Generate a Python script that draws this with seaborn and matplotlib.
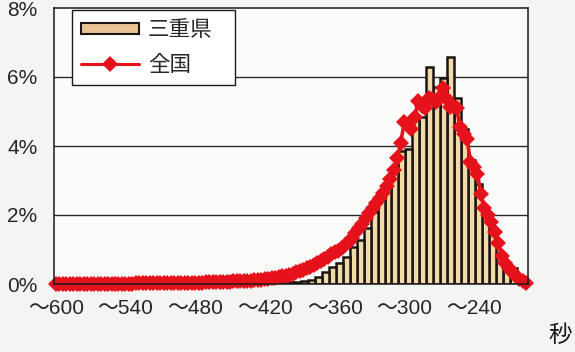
import numpy as np
import pandas as pd
import matplotlib
matplotlib.use("Agg")
import matplotlib.pyplot as plt
from matplotlib.patches import Patch
from matplotlib.lines import Line2D
import seaborn as sns

# 三重県: share of pupils in each 6-second bin (bin centre, seconds)
mie_sec = list(range(206, 447, 6))
mie_pct = [0.46, 0.55, 0.85, 1.65, 2.10, 2.90, 3.60, 4.49, 5.39, 6.58,
           5.97, 5.70, 6.29, 4.85, 4.75, 3.90, 3.85, 3.40, 2.90, 2.43,
           2.09, 1.62, 1.28, 1.07, 0.78, 0.60, 0.50, 0.35, 0.20, 0.13,
           0.10, 0.07, 0.05, 0.04, 0.03, 0.02, 0.02, 0.01, 0.01, 0.01,
           0.01]

# 全国: share of pupils at each 3-second step, from 600 s down to 195 s
nat_sec = list(range(600, 194, -3))
nat_pct = [0.00, 0.00, 0.00, 0.00, 0.00, 0.01, 0.01, 0.01, 0.01, 0.01,
           0.01, 0.01, 0.01, 0.01, 0.01, 0.01, 0.01, 0.01, 0.01, 0.01,
           0.01, 0.01, 0.01, 0.02, 0.02, 0.02, 0.02, 0.02, 0.02, 0.02,
           0.02, 0.02, 0.03, 0.03, 0.03, 0.03, 0.03, 0.03, 0.04, 0.04,
           0.04, 0.04, 0.04, 0.05, 0.05, 0.05, 0.06, 0.06, 0.06, 0.07,
           0.07, 0.08, 0.08, 0.09, 0.09, 0.10, 0.10, 0.11, 0.12, 0.13,
           0.14, 0.15, 0.16, 0.18, 0.20, 0.22, 0.24, 0.27, 0.30, 0.34,
           0.38, 0.42, 0.46, 0.50, 0.55, 0.60, 0.66, 0.72, 0.79, 0.86,
           0.92, 0.97, 1.03, 1.12, 1.22, 1.33, 1.48, 1.62, 1.75, 1.90,
           2.05, 2.20, 2.35, 2.50, 2.65, 2.85, 3.05, 3.30, 3.65, 4.10,
           4.70, 4.60, 4.50, 4.85, 5.30, 5.15, 5.10, 5.38, 5.35, 5.28,
           5.40, 5.68, 5.40, 5.13, 5.15, 5.10, 4.55, 4.35, 4.20, 3.55,
           3.40, 3.20, 2.60, 2.20, 2.00, 1.80, 1.50, 1.20, 0.80, 0.62,
           0.45, 0.35, 0.22, 0.15, 0.08, 0.03]

x_ticks = [600, 540, 480, 420, 360, 300, 240]
x_labels = ["～600", "～540", "～480", "～420", "～360", "～300", "～240"]
y_ticks = [0, 2, 4, 6, 8]
y_labels = ["0%", "2%", "4%", "6%", "8%"]

mie_df = pd.DataFrame({"sec": mie_sec, "pct": mie_pct})
nat_df = pd.DataFrame({"sec": nat_sec, "pct": nat_pct})

sns.set_style("white")
num_font = ["Liberation Sans Narrow", "Liberation Sans", "Noto Sans CJK JP"]
jp_font = ["Noto Sans CJK JP", "DejaVu Sans"]
plt.rcParams["font.family"] = jp_font

BAR_FILL = "#F1D9AA"
LINE_RED = "#E5121C"
EDGE = "#1c1410"

fig = plt.figure(figsize=(5.75, 3.52), dpi=100, facecolor="#F4F4F2")
ax = fig.add_axes([54 / 575, 68 / 352, 474 / 575, 276 / 352])
ax.set_facecolor("#FBFBFA")

# horizontal guide lines behind the bars
for yv in y_ticks[1:-1]:
    ax.axhline(yv, color="#2a2a2a", lw=1.0, zorder=0)

# bars sit on the numeric seconds scale, each one bin (6 s) wide
sns.barplot(data=mie_df, x="sec", y="pct", native_scale=True, width=1.0,
            color=BAR_FILL, saturation=1, edgecolor=EDGE,
            linewidth=1.8, errorbar=None, ax=ax, zorder=2)

sns.lineplot(data=nat_df, x="sec", y="pct", color=LINE_RED, lw=2.6,
             marker="D", markersize=8, markeredgewidth=0,
             sort=False, ax=ax, zorder=3, clip_on=False)

ax.set_xlim(601.5, 193.5)
ax.set_ylim(0, 8)
ax.set_xlabel("")
ax.set_ylabel("")

ax.set_xticks(x_ticks)
ax.set_xticklabels(x_labels, family=num_font, fontsize=15)
ax.set_yticks(y_ticks)
ax.set_yticklabels(y_labels, family=num_font, fontsize=15)
ax.tick_params(axis="x", length=0, pad=11)
ax.tick_params(axis="y", length=0, pad=12)

for side in ["left", "right", "top", "bottom"]:
    ax.spines[side].set_visible(True)
    ax.spines[side].set_color("#1a1a1a")
    ax.spines[side].set_linewidth(1.1)
    ax.spines[side].set_zorder(4)

handles = [
    Patch(facecolor="#E9C394", edgecolor=EDGE, linewidth=1.5),
    Line2D([0], [0], color=LINE_RED, lw=2.2, marker="D", markersize=8.5,
           markeredgewidth=0),
]
leg = ax.legend(handles, ["三重県", "全国"], loc="upper left",
                bbox_to_anchor=(0.038, 0.993, 0.344, 0.0), mode="expand",
                borderaxespad=0, frameon=True, fancybox=False,
                edgecolor="#1a1a1a", facecolor="white", framealpha=1.0,
                prop={"family": jp_font, "size": 15.5},
                handlelength=2.7, handleheight=0.4, handletextpad=0.4,
                labelspacing=0.6, borderpad=0.42)
leg.get_frame().set_linewidth(1.0)
leg.set_zorder(5)

fig.text(560 / 575, 1 - 335 / 352, "秒", ha="center", va="center",
         fontsize=17, family=jp_font, color="#1a1a1a")

fig.savefig("out.png", dpi=100, facecolor=fig.get_facecolor())
